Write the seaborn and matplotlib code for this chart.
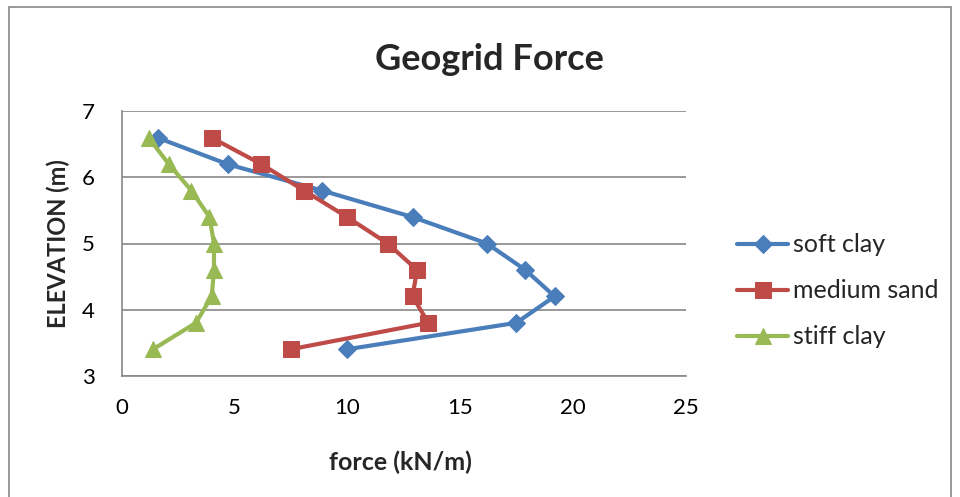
import matplotlib
matplotlib.use("Agg")
import matplotlib.pyplot as plt
import seaborn as sns
import pandas as pd
from matplotlib.patches import Rectangle

elevation = [6.6, 6.2, 5.8, 5.4, 5.0, 4.6, 4.2, 3.8, 3.4]
soft_clay = [1.6, 4.7, 8.9, 12.9, 16.2, 17.9, 19.2, 17.5, 10.0]
medium_sand = [4.0, 6.2, 8.1, 10.0, 11.8, 13.1, 12.9, 13.6, 7.5]
stiff_clay = [1.2, 2.1, 3.1, 3.9, 4.1, 4.1, 4.0, 3.3, 1.4]
series_names = ["soft clay", "medium sand", "stiff clay"]
x_ticks = [0, 5, 10, 15, 20, 25]
y_ticks = [3, 4, 5, 6, 7]

sns.set_theme(style="white")
plt.rcParams['font.family'] = ['Lato', 'DejaVu Sans']

fig = plt.figure(figsize=(9.6, 4.97), dpi=100)
ax = fig.add_axes([121.5/960, 1-375.7/497, (685.5-121.5)/960, (375.7-111.3)/497])

styles = {
    "soft clay": dict(color="#4A7EBB", marker="D", markersize=9),
    "medium sand": dict(color="#BE4B48", marker="s", markersize=11),
    "stiff clay": dict(color="#98B954", marker="^", markersize=12),
}
values = {"soft clay": soft_clay, "medium sand": medium_sand, "stiff clay": stiff_clay}

for name in series_names:
    df = pd.DataFrame({"force": values[name], "elev": elevation})
    st = styles[name]
    sns.lineplot(data=df, x="force", y="elev", sort=False, estimator=None, ax=ax,
                 color=st["color"], marker=st["marker"], markersize=st["markersize"],
                 markeredgecolor=st["color"], linewidth=3, label=name, zorder=3)

ax.set_xlim(0, 25)
ax.set_ylim(3, 7)
ax.set_xticks(x_ticks)
ax.set_yticks(y_ticks)
ax.yaxis.grid(True, color="#888888", linewidth=1.2)
ax.xaxis.grid(False)
for s in ["top", "right"]:
    ax.spines[s].set_visible(False)
for s in ["left", "bottom"]:
    ax.spines[s].set_color("#888888")
    ax.spines[s].set_linewidth(1.2)
ax.tick_params(axis="both", labelsize=16, labelcolor="black", color="#888888",
               length=4, width=1, direction="out")
ax.tick_params(axis="x", pad=12)
ax.tick_params(axis="y", pad=15)

ax.set_xlabel("force (kN/m)", fontsize=18, fontweight="bold", va="center")
ax.xaxis.set_label_coords((400-121.5)/564, (375.7-462)/264.4)
ax.set_ylabel("ELEVATION (m)", fontsize=17, fontweight="bold")
ylab = ax.yaxis.label
ylab.set_rotation_mode("default")
ylab.set_ha("center")
ylab.set_va("center")
ax.yaxis.set_label_coords((58-121.5)/564, (375.7-244)/264.4)

fig.text(489/960, 1-59/497, "Geogrid Force", ha="center", va="center",
         fontsize=26, fontweight="bold")

handles, labels = ax.get_legend_handles_labels()
ax.legend(handles, labels, loc="center left", bbox_to_anchor=(737/960, 1-291/497),
          bbox_transform=fig.transFigure, frameon=False, fontsize=18,
          borderaxespad=0, borderpad=0,
          handlelength=2.05, handletextpad=0.2, labelspacing=0.92)

fig.patches.append(Rectangle((9/960, -0.1), (951-9)/960, 1-7/497+0.1, transform=fig.transFigure,
                             fill=False, edgecolor="#888888", linewidth=1.2))

fig.savefig("out.png", dpi=100)
